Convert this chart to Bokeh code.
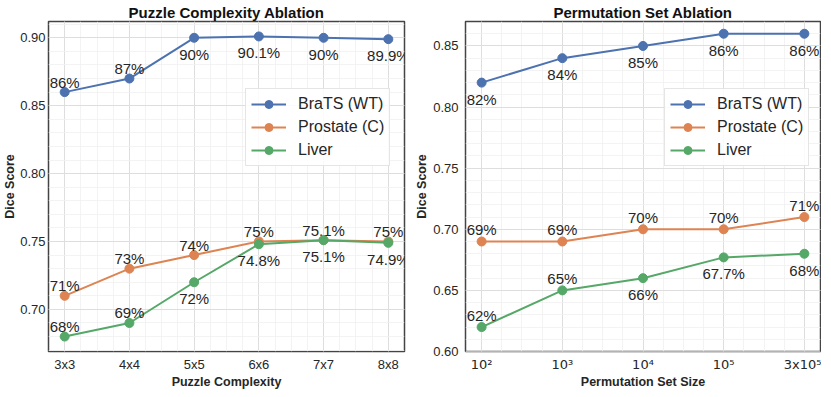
from bokeh.plotting import figure
from bokeh.models import (ColumnDataSource, Range1d, FixedTicker, SingleIntervalTicker,
                          Legend, LegendItem, NumeralTickFormatter)
from bokeh.layouts import row
from bokeh.embed import file_html
from bokeh.resources import INLINE
from bokeh.core.properties import value

# ---------------- data ----------------
puzzle_sizes = ["3x3", "4x4", "5x5", "6x6", "7x7", "8x8"]
puzzle_brats = [0.86, 0.87, 0.90, 0.901, 0.90, 0.899]
puzzle_prostate = [0.71, 0.73, 0.74, 0.75, 0.751, 0.75]
puzzle_liver = [0.68, 0.69, 0.72, 0.748, 0.751, 0.749]

perm_sizes = ["10²", "10³", "10⁴", "10⁵", "3x10⁵"]
perm_brats = [0.82, 0.84, 0.85, 0.86, 0.86]
perm_prostate = [0.69, 0.69, 0.70, 0.70, 0.71]
perm_liver = [0.62, 0.65, 0.66, 0.677, 0.68]

series_names = ["BraTS (WT)", "Prostate (C)", "Liver"]

# label placement per point (a = above, b = below)
puzzle_place = ["aabbbb", "aaaaaa", "aabbbb"]
perm_place = ["bbbbb", "aaaaa", "aabbb"]

# ---------------- style ----------------
COLORS = ["#4C72B0", "#DD8452", "#55A868"]
FONT = "Liberation Sans"
TXT = "#262626"


def fmt(v):
    s = f"{v * 100:.1f}"
    if s.endswith(".0"):
        s = s[:-2]
    return s + "%"


def make_fig(title, cats, series, places, xlabel, yr, fw, mbl, mbr,
             above_off, legend_loc, xfont, ylab_standoff, ylab_gap):
    n = len(cats)
    pad = 0.05 * (n - 1)
    p = figure(frame_width=fw, frame_height=330, title=title,
               x_range=Range1d(-pad, n - 1 + pad), y_range=Range1d(*yr),
               output_backend="svg", toolbar_location=None,
               min_border_left=mbl, min_border_right=mbr,
               min_border_top=16, min_border_bottom=34)
    p.title.text_font = FONT
    p.title.text_font_size = "15px"
    p.title.text_font_style = "bold"
    p.title.text_color = "#111111"
    p.title.align = "center"
    p.title.standoff = 2

    p.xaxis.ticker = FixedTicker(ticks=list(range(n)),
                                 minor_ticks=[i * 0.25 for i in range(-1, 4 * (n - 1) + 2)])
    p.xaxis.major_label_overrides = {i: c for i, c in enumerate(cats)}
    p.yaxis.ticker = SingleIntervalTicker(interval=0.05, num_minor_ticks=5)
    p.yaxis.formatter = NumeralTickFormatter(format="0.00")
    p.xaxis.axis_label = xlabel
    p.yaxis.axis_label = "Dice Score"

    for ax in p.axis:
        ax.axis_line_color = None
        ax.major_tick_line_color = None
        ax.minor_tick_line_color = None
        ax.major_tick_out = 0
        ax.major_tick_in = 0
        ax.minor_tick_out = 0
        ax.minor_tick_in = 0
        ax.major_label_text_font = FONT
        ax.major_label_text_font_size = "13px"
        ax.major_label_text_color = TXT
        ax.axis_label_text_font = FONT
        ax.axis_label_text_font_size = "12.5px"
        ax.axis_label_text_font_style = "bold"
        ax.axis_label_text_color = TXT
    p.xaxis.major_label_text_font = xfont
    p.xaxis.major_label_standoff = 5
    p.xaxis.axis_label_standoff = 0
    p.yaxis.major_label_standoff = ylab_standoff
    p.yaxis.axis_label_standoff = ylab_gap

    for g in (p.xgrid, p.ygrid):
        g.grid_line_color = "#dedede"
        g.grid_line_width = 1
        g.minor_grid_line_color = "#f0f0f0"
        g.minor_grid_line_width = 0.8

    p.outline_line_color = "#444444"
    p.outline_line_width = 1.5
    p.background_fill_color = "white"
    p.border_fill_color = "white"

    xs = list(range(n))
    items = []
    for name, ys, col, pl in zip(series_names, series, COLORS, places):
        lr = p.line(xs, ys, line_width=2, color=col)
        sr = p.scatter(xs, ys, size=9, color=col)
        items.append(LegendItem(label=name, renderers=[lr, sr]))
        src = ColumnDataSource(dict(
            x=xs, y=ys, t=[fmt(v) for v in ys],
            off=[above_off if c == "a" else 16.5 for c in pl]))
        p.text("x", "y", text="t", y_offset="off", source=src,
               text_font=value(FONT), text_font_size="15px",
               text_color=TXT, text_align="center", text_baseline="middle")

    leg = Legend(items=items, location=legend_loc)
    leg.label_text_font = FONT
    leg.label_text_font_size = "16px"
    leg.label_text_color = TXT
    leg.glyph_width = 35
    leg.glyph_height = 20
    leg.label_height = 20
    leg.spacing = 3
    leg.padding = 5
    leg.margin = 0
    leg.label_standoff = 12
    leg.border_line_color = "#cccccc"
    leg.border_line_width = 1
    leg.background_fill_alpha = 0.85
    p.add_layout(leg)
    return p


p1 = make_fig("Puzzle Complexity Ablation", puzzle_sizes,
              [puzzle_brats, puzzle_prostate, puzzle_liver], puzzle_place,
              "Puzzle Complexity", (0.669, 0.912), 356, 43, 8, -10, (197, 185),
              FONT, 3, 0)
p2 = make_fig("Permutation Set Ablation", perm_sizes,
              [perm_brats, perm_prostate, perm_liver], perm_place,
              "Permutation Set Size", (0.60, 0.87), 355, 52, 1, -12, (199, 185),
              "DejaVu Sans", 7, 1)

layout = row(p1, p2)
open("out.html", "w").write(file_html(layout, INLINE))
